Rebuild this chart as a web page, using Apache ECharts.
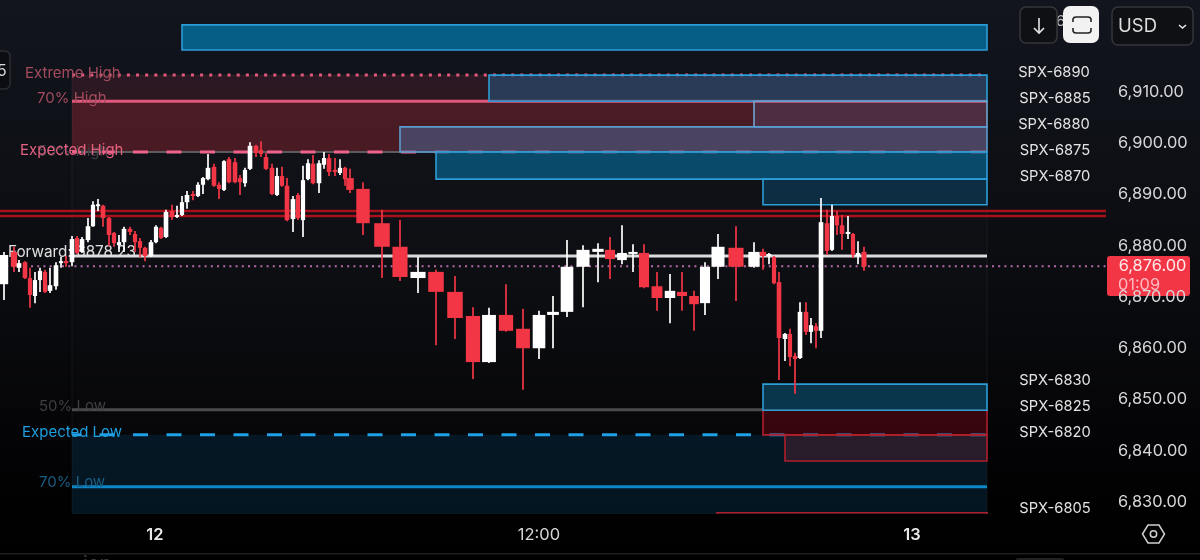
<!DOCTYPE html>
<html><head><meta charset="utf-8">
<style>html,body{margin:0;padding:0;background:#000}#c{width:1200px;height:560px}</style>
<script src="https://cdn.jsdelivr.net/npm/echarts@6/dist/echarts.min.js"></script>
</head><body><div id="c"></div>
<script>
// bar position along the session axis
const barPos=[0.4,1.4,1.9,2.5,3.0,3.5,4.0,4.5,5.0,5.6,6.1,6.6,7.2,7.7,8.2,8.8,9.3,9.8,10.3,10.9,11.4,11.9,12.4,13.0,13.5,14.0,14.5,15.1,15.6,16.1,16.6,17.2,17.7,18.2,18.7,19.3,19.8,20.3,20.8,21.4,21.9,22.4,22.9,23.5,24.0,24.5,25.0,25.6,26.1,26.6,27.2,27.7,28.2,28.7,29.3,29.8,30.3,30.8,31.3,31.9,32.4,32.9,33.5,34.0,34.5,35.0,36.3,38.2,40.0,41.8,43.6,45.5,47.3,48.9,50.6,52.3,53.9,55.3,56.7,58.3,59.8,61.0,62.2,63.3,64.4,65.7,67.0,68.2,69.4,70.5,71.8,73.6,75.4,76.3,76.9,77.4,77.9,78.5,79.0,79.5,80.0,80.6,81.1,81.6,82.1,82.7,83.2,83.7,84.2,84.8,85.3,85.8,86.4];
const opens=[6872.5,6878.8,6875.7,6876.8,6873.7,6870.2,6873.3,6874.9,6871.2,6872.1,6876.6,6877.0,6876.8,6881.5,6878.8,6881.1,6883.8,6887.8,6887.8,6885.4,6882.5,6880.1,6880.7,6883.3,6882.3,6880.9,6879.6,6878.0,6880.7,6883.5,6881.7,6886.8,6885.8,6886.0,6888.5,6890.1,6889.7,6891.9,6893.0,6895.4,6891.9,6890.9,6896.9,6896.3,6893.2,6892.2,6895.0,6899.5,6898.7,6897.3,6895.2,6889.9,6893.6,6891.7,6885.2,6889.9,6885.0,6893.0,6896.0,6892.2,6895.8,6897.1,6894.8,6894.2,6895.2,6893.2,6891.1,6884.4,6879.8,6873.7,6874.9,6871.0,6866.3,6857.3,6866.5,6863.8,6860.0,6866.5,6867.1,6875.9,6878.8,6879.2,6877.2,6878.4,6878.6,6872.1,6869.8,6871.0,6870.2,6868.8,6875.9,6879.6,6875.9,6878.8,6878.2,6877.8,6872.9,6861.8,6862.8,6858.5,6858.1,6867.1,6863.2,6864.3,6863.4,6884.4,6879.2,6885.8,6884.0,6882.3,6882.3,6878.0,6878.8];
const closes=[6878.2,6875.9,6876.6,6873.7,6870.4,6873.3,6875.1,6871.0,6872.3,6876.2,6877.0,6876.6,6881.3,6878.6,6881.3,6883.8,6888.0,6888.1,6885.4,6882.1,6880.5,6880.7,6883.3,6882.7,6880.7,6879.6,6878.0,6880.7,6883.7,6881.5,6886.6,6885.6,6886.0,6888.5,6889.9,6889.7,6891.9,6893.2,6895.2,6891.7,6891.1,6896.5,6892.4,6892.4,6892.4,6894.8,6899.5,6898.1,6897.9,6895.0,6890.1,6893.6,6891.7,6885.0,6889.1,6885.4,6892.8,6896.1,6892.2,6896.1,6897.1,6894.4,6894.4,6895.2,6893.0,6890.9,6884.4,6879.8,6873.9,6874.9,6871.0,6865.9,6857.3,6866.5,6863.4,6860.0,6866.5,6867.1,6875.9,6879.2,6879.4,6877.4,6878.6,6878.8,6871.9,6869.8,6871.2,6870.2,6868.6,6875.9,6879.8,6875.9,6878.8,6878.0,6878.4,6872.7,6862.0,6862.8,6858.3,6857.9,6867.1,6863.2,6864.5,6863.4,6884.6,6879.0,6885.8,6884.0,6882.3,6882.7,6878.2,6878.6,6875.9];
const lows=[6869.4,6874.9,6874.9,6873.5,6867.9,6868.8,6871.0,6870.8,6870.8,6871.4,6875.7,6875.9,6876.0,6878.4,6878.6,6880.7,6883.7,6886.8,6883.7,6879.9,6879.8,6878.8,6878.8,6882.1,6878.8,6877.8,6877.0,6877.8,6880.5,6881.3,6881.5,6885.0,6885.4,6885.8,6887.2,6888.9,6889.5,6890.1,6892.8,6891.5,6889.1,6890.7,6892.2,6892.2,6889.9,6891.5,6894.8,6897.3,6897.3,6894.8,6889.9,6889.7,6891.5,6884.8,6882.7,6885.0,6881.7,6892.8,6892.0,6890.3,6895.0,6893.6,6893.6,6893.8,6891.7,6890.3,6882.1,6873.7,6873.1,6870.8,6860.6,6861.8,6854.0,6857.1,6863.2,6851.9,6857.9,6860.0,6866.1,6868.0,6872.9,6873.5,6876.4,6874.9,6871.7,6867.3,6864.9,6867.3,6863.4,6866.5,6873.5,6869.2,6875.7,6875.3,6876.4,6872.5,6853.8,6857.5,6856.5,6851.1,6857.9,6862.6,6861.0,6860.0,6862.0,6878.2,6879.0,6882.1,6879.2,6881.3,6877.6,6876.4,6875.1];
const highs=[6878.8,6879.8,6877.2,6877.0,6875.7,6874.9,6875.7,6875.3,6875.7,6876.8,6877.8,6878.0,6881.9,6881.9,6881.7,6885.4,6888.7,6889.1,6888.0,6885.6,6882.7,6882.1,6883.7,6883.7,6882.9,6881.5,6879.8,6881.1,6884.0,6883.7,6887.0,6888.0,6887.8,6889.7,6890.7,6890.7,6892.4,6893.4,6897.9,6896.0,6892.4,6896.7,6897.3,6897.1,6893.8,6895.2,6900.2,6899.7,6900.4,6898.1,6896.0,6895.2,6895.4,6893.2,6889.7,6890.3,6895.6,6896.9,6897.7,6896.7,6898.3,6897.9,6897.1,6896.9,6895.4,6895.0,6892.4,6887.0,6885.0,6877.8,6875.3,6874.1,6868.0,6867.9,6872.5,6867.7,6867.3,6870.2,6881.1,6880.1,6880.5,6881.7,6884.0,6880.3,6880.3,6874.9,6874.5,6874.9,6871.2,6876.8,6882.3,6883.8,6880.7,6879.4,6878.6,6878.0,6874.9,6863.0,6863.8,6859.1,6869.0,6869.0,6865.9,6864.9,6889.3,6887.0,6888.0,6886.8,6886.0,6885.8,6882.5,6880.9,6879.8];

// axis ticks
const priceTicks=[6830,6840,6850,6860,6870,6880,6890,6900,6910];
const timeTicks=[15.5,53.9,91.2];
const timeTickLabels=['12','12:00','13'];

// zones: [start, end, upper price, lower price]
const sessionZone=[[7.2,98.7,6913.3,6827.6]];
const extremeHighZone=[[7.2,98.7,6913.3,6908.2]];
const expectedHighZone=[[7.2,98.7,6908.2,6898.3]];
const expectedLowZone=[[7.2,98.7,6843.1,6827.6]];
const strike6895=[[18.2,98.7,6923.1,6918.2]];
const strike6890=[[48.9,98.7,6913.3,6908.2]];
const strike6885=[[75.4,98.7,6908.2,6903.2]];
const strike6875=[[40.0,98.7,6903.2,6898.3]];
const strike6870=[[43.6,98.7,6898.3,6893.0]];
const strike6865=[[76.3,98.7,6893.0,6888.0]];
const strike6830=[[76.3,98.7,6853.0,6847.9]];
const strike6825=[[76.3,98.7,6847.9,6843.1]];
const strike6820=[[78.5,98.7,6843.1,6838.0]];
const strike6805=[[71.7,98.7,6827.9,6820.0]];

// price levels
const extremeHigh=6913.3, high70=6908.2, expectedHigh=6898.3, low50=6848.0, expectedLow=6843.1, low70=6833.0;
const forwardPrice=6878.0, lastPrice=6876.0, redLevelA=6886.8, redLevelB=6885.8;
const levelStart=7.2, levelEnd=98.7, fullStart=0, fullEnd=110.6;

// annotation rows: [position, price, text]
const pinkLabels=[[2.5,6913.9,'Extreme High'],[3.7,6909.0,'70% High']];
const expectedHighLabel=[[2.0,6898.9,'Expected High']];
const ghostLabels=[[3.8,6898.6,'50% High'],[3.9,6848.9,'50% Low']];
const expectedLowLabel=[[2.2,6843.9,'Expected Low']];
const low70Label=[[3.9,6834.1,'70% Low']];
const forwardLabel=[[0.8,6879.0,'Forward: 6878.23']];
const strikeLabels=[[105.4,6914.1,'SPX-6890'],[105.5,6909.0,'SPX-6885'],[105.4,6904.0,'SPX-6880'],[105.5,6898.9,'SPX-6875'],[105.5,6893.8,'SPX-6870'],[105.5,6854.0,'SPX-6830'],[105.5,6848.9,'SPX-6825'],[105.5,6843.9,'SPX-6820'],[105.5,6829.0,'SPX-6805']];

const FONT='Inter, "Noto Sans", sans-serif';
const chart=echarts.init(document.getElementById('c'),null,{renderer:'canvas'});

function zoneSeries(name,rows,fill,stroke,lw,z){
  return {type:'custom',name,z,silent:true,clip:true,data:rows,encode:{x:[0,1],y:[2,3]},
    renderItem(p,api){
      const a=api.coord([api.value(0),api.value(2)]),b=api.coord([api.value(1),api.value(3)]);
      return {type:'rect',shape:{x:a[0],y:a[1],width:b[0]-a[0],height:b[1]-a[1]},
        style:{fill,stroke:stroke||null,lineWidth:lw||0}};
    }};
}
function levelSeries(name,x0,x1,v,color,width,dash,offset,z){
  return {type:'line',name,z,silent:true,symbol:'none',animation:false,data:[[x0,v],[x1,v]],
    lineStyle:{color,width,type:dash||'solid',dashOffset:offset||0,cap:'butt'}};
}
function textSeries(name,rows,color,size,align,z){
  return {type:'custom',name,z,silent:true,data:rows,encode:{x:0,y:1},
    renderItem(p,api){
      const c=api.coord([api.value(0),api.value(1)]);
      return {type:'text',style:{x:c[0],y:c[1]+1.5,text:rows[p.dataIndex][2],fill:color,font:size+'px '+FONT,align:align||'left',verticalAlign:'middle'}};
    }};
}
const rows=barPos.map((x,i)=>[x,opens[i],closes[i],lows[i],highs[i]]);
const candles={type:'custom',name:'SPX',z:20,silent:true,data:rows,encode:{x:0,y:[1,2,3,4]},
  renderItem(p,api){
    const i=p.dataIndex,n=barPos.length;
    const gL=i>0?barPos[i]-barPos[i-1]:barPos[i+1]-barPos[i];
    const gR=i<n-1?barPos[i+1]-barPos[i]:barPos[i]-barPos[i-1];
    const w=api.size([(gL+gR)/2*0.84,0])[0];
    const o=api.value(1),c=api.value(2);
    const col=c>=o?'#ffffff':'#f23645';
    const t=api.coord([api.value(0),Math.max(o,c)]),b=api.coord([api.value(0),Math.min(o,c)]);
    const h=api.coord([api.value(0),api.value(4)]),l=api.coord([api.value(0),api.value(3)]);
    return {type:'group',children:[
      {type:'line',shape:{x1:t[0],y1:h[1],x2:t[0],y2:l[1]},style:{stroke:col,lineWidth:1.7}},
      {type:'rect',shape:{x:t[0]-w/2,y:t[1],width:w,height:Math.max(b[1]-t[1],2)},style:{fill:col}}
    ]};
  }};

const BLUE='#2c9dd6', RED='#b01f2c';
const series=[
  zoneSeries('session',sessionZone,'rgba(255,255,255,0.012)','rgba(255,255,255,0.06)',1,1),
  zoneSeries('extreme',extremeHighZone,'rgba(190,50,75,0.15)',null,0,2),
  zoneSeries('expectedHigh',expectedHighZone,'rgba(205,45,60,0.3)',null,0,2),
  zoneSeries('expectedLow',expectedLowZone,'rgba(5,95,150,0.2)',null,0,2),
  levelSeries('Extreme High',levelStart,levelEnd,extremeHigh,'#e2587c',3,[3,6.15],0,5),
  levelSeries('70% High',levelStart,levelEnd,high70,'#e2587c',3,'solid',0,5),
  levelSeries('50% High',levelStart,levelEnd,expectedHigh,'#5c5c60',2,'solid',0,4),
  levelSeries('Expected High',levelStart,levelEnd,expectedHigh,'#f0648c',3,[15,18.5],6,5),
  levelSeries('50% Low',levelStart,76.3,low50,'#4a4a4e',3,'solid',0,5),
  levelSeries('Expected Low',levelStart,levelEnd,expectedLow,'#1f9fe6',3,[15,18.5],6,5),
  levelSeries('70% Low',levelStart,levelEnd,low70,'#0d86c6',3,'solid',0,5),
  levelSeries('Forward',levelStart,levelEnd,forwardPrice,'#dcdcdc',3,'solid',0,6),
  levelSeries('Red A',fullStart,fullEnd,redLevelA,'#a8101c',2.5,'solid',0,6),
  levelSeries('Red B',fullStart,fullEnd,redLevelB,'#a8101c',2.5,'solid',0,6),
  levelSeries('Last',fullStart,fullEnd,lastPrice,'#b468a8',2,[2,4.2],0,6),
  zoneSeries('6895',strike6895,'rgba(4,110,158,0.82)',BLUE,1.6,10),
  zoneSeries('6890',strike6890,'rgba(40,90,130,0.55)',BLUE,1.6,10),
  zoneSeries('6885',strike6885,'rgba(100,120,180,0.2)','#6ea4d0',1.6,10),
  zoneSeries('6875',strike6875,'rgba(75,110,160,0.5)','#5a9ccf',1.6,10),
  zoneSeries('6870',strike6870,'rgba(8,105,150,0.65)',BLUE,1.6,10),
  zoneSeries('6865',strike6865,'rgba(12,70,105,0.55)',BLUE,1.6,10),
  zoneSeries('6830',strike6830,'rgba(12,85,120,0.6)',BLUE,1.6,10),
  zoneSeries('6825',strike6825,'rgba(130,6,20,0.4)',RED,1.6,9),
  zoneSeries('6820',strike6820,'rgba(170,50,70,0.22)',RED,1.6,9),
  zoneSeries('6805',strike6805,'rgba(0,0,0,0)',RED,1.6,9),
  candles,
  textSeries('ghost',ghostLabels,'#3f3f42',15,'left',15),
  textSeries('high',pinkLabels,'#a44c5e',15,'left',15),
  textSeries('expectedHighLabel',expectedHighLabel,'#e4607f',15,'left',15),
  textSeries('expectedLowLabel',expectedLowLabel,'#1f9fe0',15,'left',15),
  textSeries('low70',low70Label,'#1b5e85',15,'left',15),
  textSeries('forward',forwardLabel,'#e0e0e0',15.3,'left',15),
  textSeries('strikes',strikeLabels,'#e4e4e4',14.7,'center',25)
];

const R=(x,y,w,h,r,fill,stroke)=>({type:'rect',silent:true,shape:{x,y,width:w,height:h,r},style:{fill,stroke:stroke||null,lineWidth:stroke?1.5:0}});
const T=(x,y,text,size,fill,align)=>({type:'text',silent:true,x,y,style:{text,fill,font:size+'px '+FONT,align:align||'left',verticalAlign:'middle'}});
const P=(points,stroke,lw)=>({type:'polyline',silent:true,shape:{points},style:{fill:null,stroke,lineWidth:lw}});

chart.setOption({
  animation:false,
  backgroundColor:{type:'linear',x:0,y:0,x2:0,y2:1,colorStops:[{offset:0,color:'#12151e'},{offset:0.5,color:'#0b0c10'},{offset:0.9,color:'#010102'},{offset:1,color:'#000000'}]},
  grid:{left:0,top:0,width:1106,height:514},
  xAxis:{type:'value',min:fullStart,max:fullEnd,axisLine:{show:false},axisTick:{show:false},splitLine:{show:false},
    axisLabel:{customValues:timeTicks,margin:13,hideOverlap:false,showMinLabel:true,showMaxLabel:true,
      formatter:v=>{const l=timeTickLabels[timeTicks.indexOf(v)];return l==='12:00'?'{t|'+l+'}':'{d|'+l+'}';},
      rich:{d:{fontFamily:FONT,fontSize:16.5,fontWeight:600,color:'#e8e8e8'},t:{fontFamily:FONT,fontSize:16.5,color:'#d4d4d4'}}}},
  yAxis:{type:'value',position:'right',min:6827.66,max:6927.95,axisLine:{show:false},axisTick:{show:false},splitLine:{show:false},
    axisLabel:{customValues:priceTicks,margin:12,fontFamily:FONT,fontSize:16.4,color:'#d6d6d8',
      formatter:v=>v.toLocaleString('en-US',{minimumFractionDigits:2,maximumFractionDigits:2})}},
  series,
  graphic:[
    T(1056,21,'6',15,'#bbbbbb'),
    R(1020,7,37,36,6,'#0e1014','#34363a'),
    P([[1039,18],[1039,33]],'#e6e6e6',1.6),
    P([[1034,28],[1039,33],[1044,28]],'#e6e6e6',1.6),
    R(1063,6,36,37,7,'#f2f2f2'),
    P([[1073,22],[1073,19],[1074,17.5],[1076,17],[1088,17],[1090,17.5],[1091,19],[1091,22]],'#222222',1.6),
    P([[1073,28],[1073,31],[1074,32.5],[1076,33],[1088,33],[1090,32.5],[1091,31],[1091,28]],'#222222',1.6),
    R(1112,7,81,38,6,'#0e1014','#34363a'),
    T(1118,26.5,'USD',18.5,'#dedede'),
    P([[1179,25],[1182.5,28],[1186,25]],'#e6e6e6',1.6),
    R(-10,51,20,38,5,'#0b0d12','#2c2e33'),
    T(-3,71,'5',16,'#d8d8d8'),
    R(1107,256,83,40,3,'#f23645'),
    T(1152.5,266,'6,876.00',16.4,'#ffe8ea','center'),
    T(1139,285,'01:09',16.4,'#ffb8c0','center'),
    {type:'polygon',silent:true,shape:{points:[[1142.5,534],[1148,525],[1159,525],[1164.5,534],[1159,543],[1148,543]]},style:{fill:null,stroke:'#d0d0d0',lineWidth:1.5}},
    {type:'circle',silent:true,shape:{cx:1153.5,cy:534,r:3.2},style:{fill:null,stroke:'#d0d0d0',lineWidth:1.5}},
    {type:'rect',silent:true,shape:{x:0,y:553,width:1200,height:1.5},style:{fill:'#1e1e20'}},
    T(83,564,'ion',20,'#3c3c3e'),
    R(1015,558,50,8,4,'#222224')
  ]
});
</script></body></html>
